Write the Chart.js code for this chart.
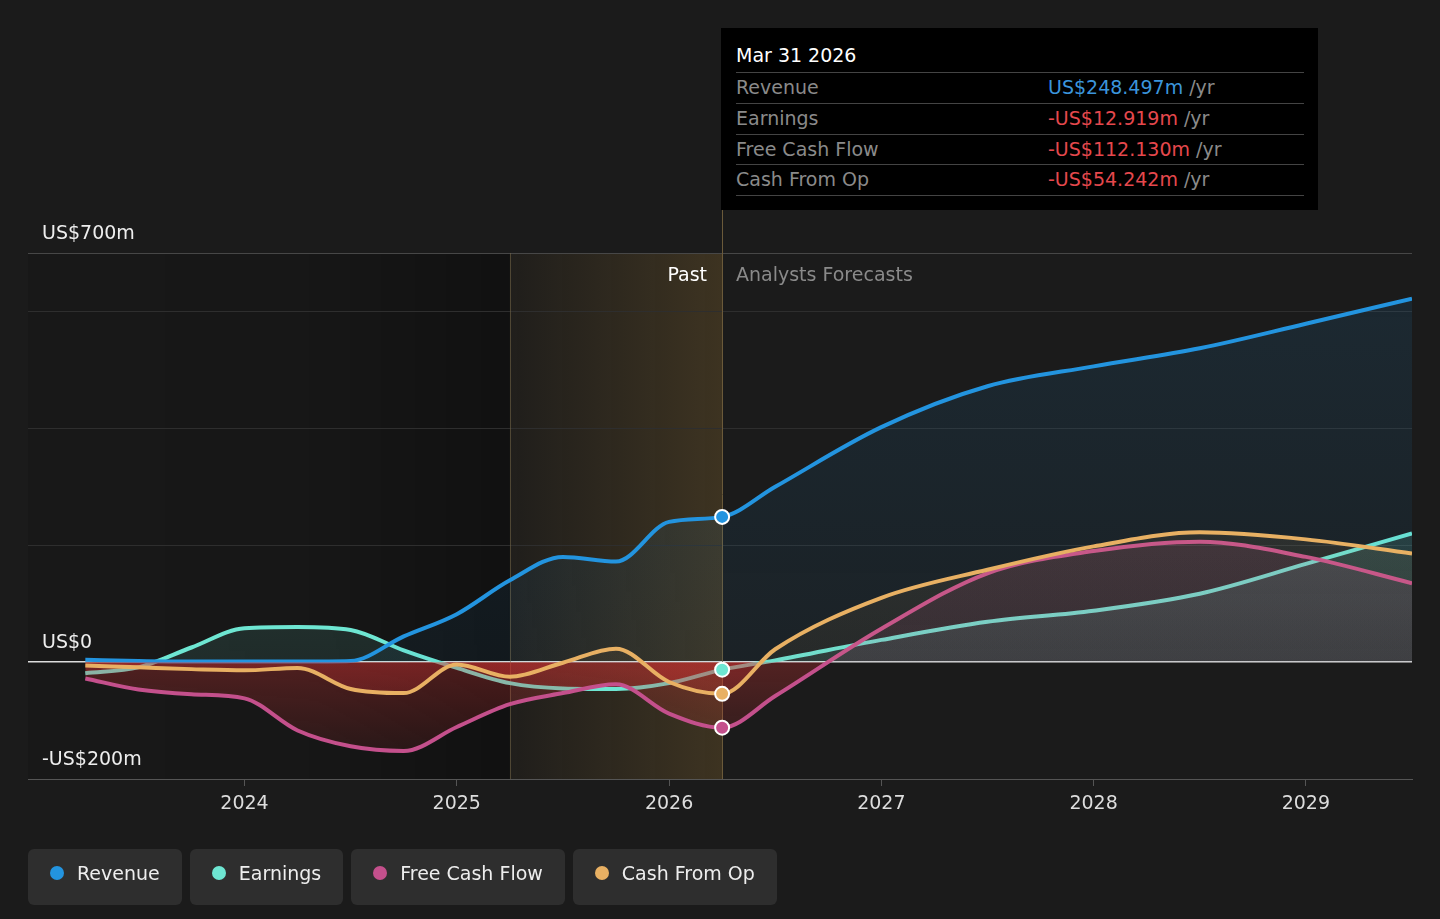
<!DOCTYPE html>
<html>
<head>
<meta charset="utf-8">
<script src="https://cdn.jsdelivr.net/npm/chart.js@4.4.1/dist/chart.umd.min.js"></script>
<style>
  html, body { margin: 0; padding: 0; background: #1b1b1b; }
  body { width: 1440px; height: 919px; overflow: hidden; font-family: "DejaVu Sans", sans-serif; }
  #wrap { position: relative; width: 1440px; height: 919px; }
  #chart { position: absolute; left: 0; top: 0; }
  .tip { position: absolute; left: 721px; top: 28px; width: 597px; height: 182px; background: #000; }
  .tip .title { position: absolute; left: 15px; top: 14px; font-size: 19px; line-height: 26px; color: #fff; }
  .tip .rows { position: absolute; left: 15px; top: 44px; width: 568px; border-bottom: 1px solid #444; }
  .tip .row { position: relative; box-sizing: border-box; height: 30.75px; line-height: 28px; border-top: 1px solid #444; font-size: 19px; color: #8a8a8a; }
  .tip .row .val { position: absolute; left: 312px; top: 0; }
  .tip .unit { color: #8a8a8a; }
  .pos { color: #3b95dc; }
  .neg { color: #e5484d; }
  .tag { position: absolute; top: 261px; font-size: 19px; line-height: 26px; white-space: nowrap; }
  .legend { position: absolute; left: 28px; top: 849px; display: flex; gap: 8px; }
  .legend .item { box-sizing: border-box; height: 56px; display: flex; align-items: center; padding: 0 22px 8px 22px; background: #2e2e2e; border-radius: 6px; font-size: 19px; color: #eee; }
  .legend .dot { width: 14px; height: 14px; border-radius: 50%; margin-right: 13px; }
</style>
</head>
<body>
<div id="wrap">
  <canvas id="chart" width="1440" height="919"></canvas>
  <div class="tag" style="right:733px;color:#fff">Past</div>
  <div class="tag" style="left:736px;color:#8a8a8a">Analysts Forecasts</div>
  <div class="tip">
    <div class="title">Mar 31 2026</div>
    <div class="rows" id="tipRows"></div>
  </div>
  <div class="legend" id="legend"></div>
</div>
<script>
// time axis in decimal years (quarterly history, half-yearly forecasts)
const years = [2023.25, 2023.5, 2023.75, 2024, 2024.25, 2024.5, 2024.75, 2025, 2025.25, 2025.5, 2025.75, 2026, 2026.25,
  2026.5, 2027, 2027.5, 2028, 2028.5, 2029, 2029.5];

// values in US$ millions
const revenue = [4, 2, 1, 1, 1, 2, 44, 82, 140, 180, 172, 240, 248.497, 300, 402, 472, 506, 537, 579, 622];
const earnings = [-19, -9, 25, 58, 60, 55, 20, -10, -36, -45, -46, -36, -12.919, 3, 38, 69, 88, 117, 168, 220];
const freeCashFlow = [-28, -47, -55, -62, -117, -144, -152, -111, -72, -53, -38, -88, -112.13, -58, 57, 152, 190, 206, 180, 135];
const cashFromOp = [-6, -9, -12, -14, -10, -46, -53, -4, -25, -1, 23, -34, -54.242, 22, 110, 158, 198, 222, 210, 186];

const pastStart = 2025.25;
const nowYear = 2026.25;
const xTicks = [2024, 2025, 2026, 2027, 2028, 2029];
const yTicks = [-200, 0, 200, 400, 600, 700];
const yLabels = { '700': 'US$700m', '0': 'US$0', '-200': '-US$200m' };

const series = [
  { name: 'Revenue', values: revenue, color: '#2394df', rgb: '35,148,223', aTop: 0.12, aZero: 0.06, order: 3 },
  { name: 'Earnings', values: earnings, color: '#6ee6d2', rgb: '110,230,210', aTop: 0.25, aZero: 0.1, order: 4 },
  { name: 'Free Cash Flow', values: freeCashFlow, color: '#c4508c', rgb: '196,80,140', aTop: 0.2, aZero: 0.1, order: 2 },
  { name: 'Cash From Op', values: cashFromOp, color: '#e8b063', rgb: '232,176,99', aTop: 0.15, aZero: 0.06, order: 1 }
];

const nowIndex = years.indexOf(nowYear);

function areaFill(rgb, aTop, aZero) {
  return (c) => {
    const chart = c.chart;
    const a = chart.chartArea;
    if (!a) return `rgba(${rgb},${aZero})`;
    const y0 = chart.scales.y.getPixelForValue(0);
    const z = (y0 - a.top) / (a.bottom - a.top);
    const g = chart.ctx.createLinearGradient(0, a.top, 0, a.bottom);
    g.addColorStop(0, `rgba(${rgb},${aTop})`);
    g.addColorStop(z, `rgba(${rgb},${aZero})`);
    g.addColorStop(Math.min(1, z + 0.001), 'rgba(210,50,50,0.3)');
    g.addColorStop(1, 'rgba(210,50,50,0.05)');
    return g;
  };
}

const datasets = series.map(s => ({
  label: s.name,
  data: years.map((x, i) => ({ x, y: s.values[i] })),
  borderColor: s.color,
  borderWidth: 4,
  backgroundColor: areaFill(s.rgb, s.aTop, s.aZero),
  fill: 'origin',
  pointRadius: 0,
  cubicInterpolationMode: 'monotone',
  order: s.order
}));

// markers at the current date, drawn on top of everything
datasets.push({
  label: 'now',
  data: series.map(s => ({ x: nowYear, y: s.values[nowIndex] })),
  showLine: false,
  fill: false,
  pointRadius: 7,
  pointBorderWidth: 2,
  pointBorderColor: '#fff',
  pointBackgroundColor: series.map(s => s.color),
  order: 0
});

// background regions and divider lines
const regions = {
  id: 'regions',
  beforeDraw(chart) {
    const { ctx, chartArea: a, scales: { x } } = chart;
    const xp = x.getPixelForValue(pastStart);
    const xn = x.getPixelForValue(nowYear);
    ctx.save();
    let g = ctx.createLinearGradient(a.left, 0, xp, 0);
    g.addColorStop(0, 'rgba(0,0,0,0.08)');
    g.addColorStop(0.6, 'rgba(0,0,0,0.15)');
    g.addColorStop(1, 'rgba(0,0,0,0.37)');
    ctx.fillStyle = g;
    ctx.fillRect(a.left, a.top, xp - a.left, a.bottom - a.top);
    g = ctx.createLinearGradient(xp, 0, xn, 0);
    g.addColorStop(0, 'rgba(200,150,60,0.03)');
    g.addColorStop(1, 'rgba(200,150,60,0.2)');
    ctx.fillStyle = g;
    ctx.fillRect(xp, a.top, xn - xp, a.bottom - a.top);
    ctx.restore();
  },
  beforeDatasetsDraw(chart) {
    const { ctx, chartArea: a, scales: { x } } = chart;
    const xp = Math.round(x.getPixelForValue(pastStart)) + 0.5;
    const xn = Math.round(x.getPixelForValue(nowYear)) + 0.5;
    ctx.save();
    ctx.lineWidth = 1;
    ctx.strokeStyle = 'rgba(120,105,75,0.55)';
    ctx.beginPath(); ctx.moveTo(xp, a.top); ctx.lineTo(xp, a.bottom); ctx.stroke();
    ctx.strokeStyle = '#6b5a3a';
    ctx.beginPath(); ctx.moveTo(xn, 210); ctx.lineTo(xn, a.bottom); ctx.stroke();
    ctx.restore();
  }
};

new Chart(document.getElementById('chart'), {
  type: 'line',
  data: { datasets },
  plugins: [regions],
  options: {
    responsive: false,
    animation: false,
    events: [],
    layout: { padding: { left: 28, right: 28, top: 253, bottom: 0 } },
    plugins: {
      legend: { display: false },
      tooltip: { enabled: false }
    },
    scales: {
      x: {
        type: 'linear',
        min: 2022.98,
        max: 2029.5,
        afterBuildTicks: s => { s.ticks = xTicks.map(v => ({ value: v })); },
        afterFit: s => { s.height = 140; },
        ticks: {
          color: '#ddd',
          font: { family: 'DejaVu Sans', size: 19 },
          padding: 7,
          autoSkip: false,
          maxRotation: 0,
          callback: v => String(v)
        },
        grid: { drawOnChartArea: false, drawTicks: true, tickLength: 7, color: '#555' },
        border: { display: true, color: '#555', width: 1 }
      },
      y: {
        min: -200,
        max: 700,
        afterBuildTicks: s => { s.ticks = yTicks.map(v => ({ value: v })); },
        afterFit: s => { s.width = 0; },
        ticks: {
          mirror: true,
          padding: 14,
          labelOffset: -19,
          autoSkip: false,
          color: '#eee',
          font: { family: 'DejaVu Sans', size: 19 },
          callback: v => yLabels[String(v)] || ''
        },
        grid: {
          drawTicks: false,
          color: c => c.tick.value === 0 ? '#dcdcdc' : c.tick.value === 700 ? '#474747' : c.tick.value === -200 ? '#555' : '#2e2e2e',
          lineWidth: c => c.tick.value === 0 ? 1.5 : 1
        },
        border: { display: false }
      }
    }
  }
});

// tooltip box rows and legend
const fmt = v => (v < 0 ? '-' : '') + 'US$' + Math.abs(v).toFixed(3) + 'm';
const rows = document.getElementById('tipRows');
series.forEach(s => {
  const v = s.values[nowIndex];
  const row = document.createElement('div');
  row.className = 'row';
  row.innerHTML = `<span>${s.name}</span><span class="val"><span class="${v < 0 ? 'neg' : 'pos'}">${fmt(v)}</span> <span class="unit">/yr</span></span>`;
  rows.appendChild(row);
});

const legend = document.getElementById('legend');
series.forEach(s => {
  const item = document.createElement('div');
  item.className = 'item';
  item.innerHTML = `<span class="dot" style="background:${s.color}"></span><span>${s.name}</span>`;
  legend.appendChild(item);
});
</script>
</body>
</html>
